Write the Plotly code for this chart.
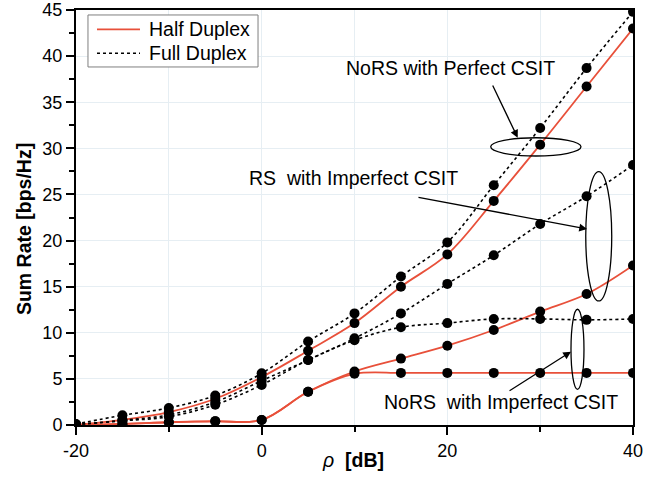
import plotly.graph_objects as go

# ---- data ----
rho_db = [-20, -15, -10, -5, 0, 5, 10, 15, 20, 25, 30, 35, 40]
fd_nors_perfect = [0.1, 1.05, 1.85, 3.2, 5.6, 9.05, 12.1, 16.1, 19.8, 26.0, 32.2, 38.7, 44.8]
hd_nors_perfect = [0.02, 0.55, 1.4, 2.85, 5.2, 8.05, 11.05, 15.0, 18.5, 24.3, 30.4, 36.7, 43.0]
fd_rs_imperfect = [0.05, 0.5, 1.1, 2.5, 4.8, 7.05, 9.4, 12.1, 15.3, 18.4, 21.8, 24.8, 28.2]
hd_rs_imperfect = [0.0, 0.12, 0.3, 0.42, 0.55, 3.6, 5.8, 7.2, 8.6, 10.3, 12.3, 14.2, 17.3]
fd_nors_imperfect = [0.05, 0.45, 0.9, 2.2, 4.35, 7.05, 9.2, 10.6, 11.05, 11.5, 11.5, 11.4, 11.5]
hd_nors_imperfect = [0.0, 0.1, 0.3, 0.4, 0.55, 3.6, 5.55, 5.65, 5.65, 5.65, 5.65, 5.65, 5.65]

x_ticks = [-20, 0, 20, 40]
x_tick_labels = ["-20", "0", "20", "40"]
y_ticks = [0, 5, 10, 15, 20, 25, 30, 35, 40, 45]
legend_names = ["Half Duplex", "Full Duplex"]

RED = "#E8503A"
FONT = "Arial, Liberation Sans, sans-serif"

hd_series = [hd_nors_perfect, hd_rs_imperfect, hd_nors_imperfect]
fd_series = [fd_nors_perfect, fd_rs_imperfect, fd_nors_imperfect]

fig = go.Figure()

# lines
for s in hd_series:
    fig.add_trace(go.Scatter(x=rho_db, y=s, mode="lines", showlegend=False,
                             line=dict(color=RED, width=1.8, shape="spline", smoothing=1.0)))
for s in fd_series:
    fig.add_trace(go.Scatter(x=rho_db, y=s, mode="lines", showlegend=False,
                             line=dict(color="black", width=1.6, dash="dot", shape="spline", smoothing=1.0)))
# markers
for s in hd_series + fd_series:
    fig.add_trace(go.Scatter(x=rho_db, y=s, mode="markers", showlegend=False,
                             marker=dict(color="black", size=10, line=dict(width=0))))

# ellipses
ellipses = [
    (24.67, 34.40, 29.17, 31.15),
    (34.91, 37.71, 13.45, 27.47),
    (33.32, 34.72, 3.87, 12.55),
]
for x0, x1, y0, y1 in ellipses:
    fig.add_shape(type="circle", xref="x", yref="y", x0=x0, x1=x1, y0=y0, y1=y1,
                  line=dict(color="black", width=1.3))

# arrows (tail -> head)
arrows = [
    ((24.81, 36.98), (27.58, 31.15)),
    ((16.73, 24.72), (35.05, 21.25)),
    ((26.54, 3.61), (33.32, 7.95)),
]
for (tx, ty), (hx, hy) in arrows:
    fig.add_annotation(x=hx, y=hy, ax=tx, ay=ty, xref="x", yref="y", axref="x", ayref="y",
                       text="", showarrow=True, arrowhead=2, arrowsize=1.2, arrowwidth=1.3,
                       arrowcolor="black")

# labels
labels = [
    ("NoRS with Perfect CSIT", 20.36, 38.7),
    ("RS  with Imperfect CSIT", 9.89, 26.8),
    ("NoRS  with Imperfect CSIT", 25.78, 2.53),
]
for t, x, y in labels:
    fig.add_annotation(x=x, y=y, xref="x", yref="y", text=t.replace("  ", "&nbsp; "),
                       xanchor="center", yanchor="middle",
                       showarrow=False, font=dict(family=FONT, size=19.5, color="black"))

# axis titles as annotations
fig.add_annotation(xref="paper", yref="paper", x=-0.0934, y=0.472, textangle=-90,
                   xanchor="center", yanchor="middle",
                   text="<b>Sum Rate [bps/Hz]</b>", showarrow=False,
                   font=dict(family=FONT, size=19.5, color="black"))
fig.add_annotation(xref="paper", yref="paper", x=0.497, y=-0.0843,
                   xanchor="center", yanchor="middle",
                   text="<i>ρ</i>&nbsp; <b>[dB]</b>", showarrow=False,
                   font=dict(family=FONT, size=19.5, color="black"))

# legend (drawn box with samples)
fig.add_shape(type="rect", xref="paper", yref="paper", x0=0.0215, x1=0.3268, y0=0.8627, y1=0.988,
              line=dict(color="#7f7f7f", width=1), fillcolor="white", layer="above")
legend_rows = [0.9535, 0.8957]
legend_styles = [dict(color=RED, width=1.8), dict(color="black", width=1.6, dash="dot")]
for name, yy, st in zip(legend_names, legend_rows, legend_styles):
    fig.add_shape(type="line", xref="paper", yref="paper", x0=0.0377, x1=0.1149, y0=yy, y1=yy,
                  line=st, layer="above")
    fig.add_annotation(xref="paper", yref="paper", x=0.1275, y=yy, xanchor="left", yanchor="middle",
                       text=name, showarrow=False, font=dict(family=FONT, size=19.5, color="black"))

GRID = "#e6eef3"
fig.update_layout(
    width=667, height=479,
    margin=dict(l=76, r=34, t=10, b=54, autoexpand=False),
    paper_bgcolor="white", plot_bgcolor="white",
    showlegend=False,
    font=dict(family=FONT, size=18, color="black"),
    xaxis=dict(range=[-20, 40], tickvals=x_ticks, ticktext=x_tick_labels, automargin=False,
               ticks="outside", ticklen=8, tickwidth=1.5,
               tickcolor="black", showline=True, linecolor="black", linewidth=2, mirror=True,
               showgrid=True, gridcolor=GRID, gridwidth=1, zeroline=False,
               tickfont=dict(family=FONT, size=18),
               minor=dict(dtick=10, tick0=0, ticks="outside", ticklen=5, tickwidth=1.5,
                          tickcolor="black", showgrid=True, gridcolor=GRID)),
    yaxis=dict(range=[0, 45], tickvals=y_ticks, ticks="outside", ticklen=8, tickwidth=1.5,
               automargin=False,
               tickcolor="black", showline=True, linecolor="black", linewidth=2, mirror=True,
               showgrid=True, gridcolor=GRID, gridwidth=1, zeroline=False,
               tickfont=dict(family=FONT, size=18),
               minor=dict(dtick=2.5, tick0=0, ticks="outside", ticklen=5, tickwidth=1.5,
                          tickcolor="black", showgrid=False)),
    xaxis2=dict(overlaying="x", side="top", anchor="y", range=[-20, 40], dtick=20, tick0=0,
                automargin=False,
                ticks="inside", ticklen=7, tickwidth=1.5, tickcolor="black",
                showticklabels=False, showgrid=False, zeroline=False, showline=False,
                minor=dict(dtick=10, tick0=0, ticks="inside", ticklen=5, tickwidth=1.5, tickcolor="black")),
    yaxis2=dict(overlaying="y", side="right", anchor="x", range=[0, 45], dtick=5, tick0=0,
                automargin=False,
                ticks="inside", ticklen=7, tickwidth=1.5, tickcolor="black",
                showticklabels=False, showgrid=False, zeroline=False, showline=False,
                minor=dict(dtick=2.5, tick0=0, ticks="inside", ticklen=5, tickwidth=1.5, tickcolor="black")),
)

fig.write_html("out.html")
